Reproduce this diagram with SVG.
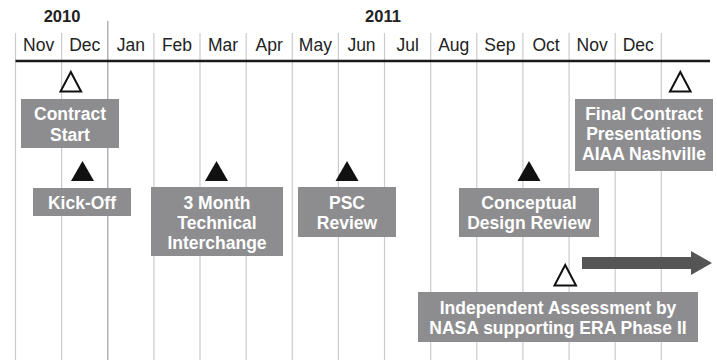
<svg xmlns="http://www.w3.org/2000/svg" width="717" height="360" viewBox="0 0 717 360">
<style>
.grid{stroke:#cbcbcb;stroke-width:1.2}
.yr{stroke:#a0a0a0;stroke-width:1.2}
.month{font-family:"Liberation Sans",Arial,sans-serif;font-size:17.5px;fill:#222;text-anchor:middle}
.year{font-family:"Liberation Sans",Arial,sans-serif;font-size:16.5px;font-weight:bold;fill:#222;text-anchor:middle}
.box{fill:#8d8d8f}
.lbl{font-family:"Liberation Sans",Arial,sans-serif;font-size:17.5px;font-weight:bold;fill:#fff;text-anchor:middle}
.open{fill:#fff;stroke:#111;stroke-width:2;stroke-linejoin:miter}
.solid{fill:#111}
</style>
<rect width="717" height="360" fill="#fff"/>
<g id="grid">
<line class="grid" x1="15.5" y1="33" x2="15.5" y2="360"/>
<line class="grid" x1="61.6" y1="33" x2="61.6" y2="360"/>
<line class="yr" x1="107.8" y1="21" x2="107.8" y2="360"/>
<line class="grid" x1="153.9" y1="33" x2="153.9" y2="360"/>
<line class="grid" x1="200" y1="33" x2="200" y2="360"/>
<line class="grid" x1="246.2" y1="33" x2="246.2" y2="360"/>
<line class="grid" x1="292.3" y1="33" x2="292.3" y2="360"/>
<line class="grid" x1="338.4" y1="33" x2="338.4" y2="360"/>
<line class="grid" x1="384.5" y1="33" x2="384.5" y2="360"/>
<line class="grid" x1="430.7" y1="33" x2="430.7" y2="360"/>
<line class="grid" x1="476.8" y1="33" x2="476.8" y2="360"/>
<line class="grid" x1="522.9" y1="33" x2="522.9" y2="360"/>
<line class="grid" x1="569.1" y1="33" x2="569.1" y2="360"/>
<line class="grid" x1="615.2" y1="33" x2="615.2" y2="360"/>
<line class="grid" x1="661.3" y1="33" x2="661.3" y2="360"/>
<line x1="15.5" y1="61" x2="710" y2="61" stroke="#1a1a1a" stroke-width="2.5"/>
<text class="year" x="62" y="22">2010</text>
<text class="year" x="383" y="22">2011</text>
<text class="month" x="38.6" y="50.5">Nov</text>
<text class="month" x="84.7" y="50.5">Dec</text>
<text class="month" x="130.8" y="50.5">Jan</text>
<text class="month" x="177" y="50.5">Feb</text>
<text class="month" x="223.1" y="50.5">Mar</text>
<text class="month" x="269.2" y="50.5">Apr</text>
<text class="month" x="315.4" y="50.5">May</text>
<text class="month" x="361.5" y="50.5">Jun</text>
<text class="month" x="407.6" y="50.5">Jul</text>
<text class="month" x="453.7" y="50.5">Aug</text>
<text class="month" x="499.9" y="50.5">Sep</text>
<text class="month" x="546" y="50.5">Oct</text>
<text class="month" x="592.1" y="50.5">Nov</text>
<text class="month" x="638.3" y="50.5">Dec</text>
</g>
<g id="contract-start">
<polygon class="open" points="70.8,72 60.5,91.5 81.1,91.5"/>
<rect class="box" x="21" y="99" width="98" height="49"/>
<text class="lbl" x="70" y="120">Contract</text>
<text class="lbl" x="70" y="141">Start</text>
</g>
<g id="kick-off">
<polygon class="solid" points="82.5,161 71,181 94,181"/>
<rect class="box" x="33" y="188" width="98" height="28"/>
<text class="lbl" x="82" y="208.5">Kick-Off</text>
</g>
<g id="technical-interchange">
<polygon class="solid" points="216.5,161 205,181 228,181"/>
<rect class="box" x="151" y="187" width="132" height="69"/>
<text class="lbl" x="217" y="208.5">3 Month</text>
<text class="lbl" x="217" y="229">Technical</text>
<text class="lbl" x="217" y="249">Interchange</text>
</g>
<g id="psc-review">
<polygon class="solid" points="347,161 335.5,181 358.5,181"/>
<rect class="box" x="298" y="187" width="98" height="50"/>
<text class="lbl" x="347" y="208.5">PSC</text>
<text class="lbl" x="347" y="229">Review</text>
</g>
<g id="conceptual-design-review">
<polygon class="solid" points="529,161 517.5,181 540.5,181"/>
<rect class="box" x="459" y="188" width="140" height="49"/>
<text class="lbl" x="529" y="208.5">Conceptual</text>
<text class="lbl" x="529" y="229">Design Review</text>
</g>
<g id="final-contract">
<polygon class="open" points="680.3,72 670,91.5 690.6,91.5"/>
<rect class="box" x="575" y="99" width="138" height="72"/>
<text class="lbl" x="644" y="120">Final Contract</text>
<text class="lbl" x="644" y="140">Presentations</text>
<text class="lbl" x="644" y="160">AIAA Nashville</text>
</g>
<g id="independent-assessment">
<polygon class="open" points="565.2,265 554.5,285.5 576,285.5"/>
<rect class="box" x="418" y="292" width="280" height="50"/>
<text class="lbl" x="558" y="313.5">Independent Assessment by</text>
<text class="lbl" x="558" y="333.5">NASA supporting ERA Phase II</text>
</g>
<g id="connectors">
<polygon points="582,257 691,257 691,251 712,263 691,275 691,269 582,269" fill="#555"/>
</g>
</svg>
